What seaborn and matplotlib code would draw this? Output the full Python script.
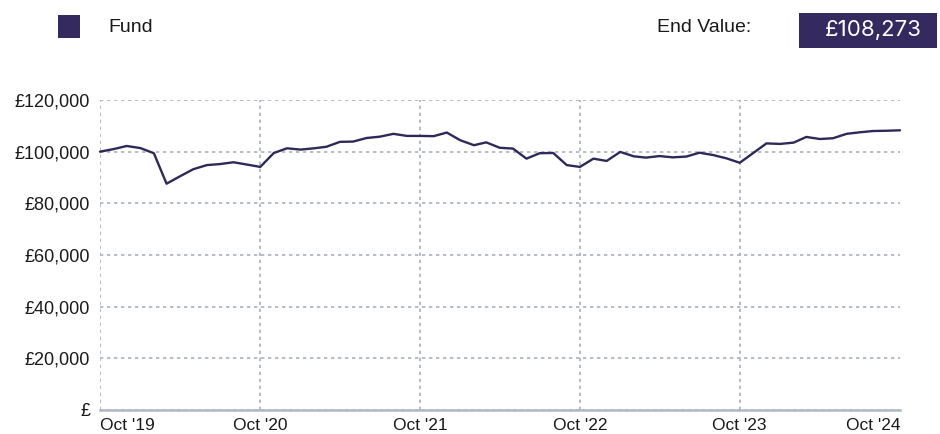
import pandas as pd
import matplotlib.pyplot as plt
import matplotlib.ticker as mticker
from matplotlib.patches import Rectangle
import seaborn as sns

# monthly fund value, Oct 2019 - Oct 2024
months = pd.date_range('2019-10-01', '2024-10-01', freq='MS')
fund_values = [
    100000, 101000, 102200, 101400, 99400, 87600, 90500, 93200, 94800, 95200,
    95900, 95000, 94100, 99500, 101300, 100800, 101300, 101900, 103800, 103900,
    105300, 105800, 106900, 106100, 106100, 106000, 107400, 104400, 102500, 103600,
    101500, 101200, 97300, 99400, 99500, 94800, 94100, 97300, 96400, 99900,
    98200, 97700, 98300, 97800, 98100, 99600, 98700, 97400, 95700, 99500,
    103200, 103000, 103500, 105700, 104900, 105200, 106900, 107500, 108000, 108100,
    108273,
]
tick_dates = pd.to_datetime(['2019-10-01', '2020-10-01', '2021-10-01',
                             '2022-10-01', '2023-10-01', '2024-10-01'])
tick_labels = ["Oct '19", "Oct '20", "Oct '21", "Oct '22", "Oct '23", "Oct '24"]
y_ticks = [0, 20000, 40000, 60000, 80000, 100000, 120000]
series_name = 'Fund'
end_value = '£108,273'

LINE = '#2e2958'
BOX = '#342a60'
GRID = '#a9b1ba'
AXIS = '#afb8c3'
TEXT = '#1a1a1a'

sns.set_theme(style='white')
plt.rcParams['font.family'] = ['Liberation Sans', 'DejaVu Sans']

fig = plt.figure(figsize=(9.4, 4.34), dpi=100)
ax = fig.add_axes([100 / 940, 24 / 434, 800 / 940, 310 / 434])

df = pd.DataFrame({'date': months, 'value': fund_values})
sns.lineplot(data=df, x='date', y='value', ax=ax, color=LINE,
             linewidth=1.7, clip_on=False, zorder=3)

ax.set_xlim(months[0], months[-1])
ax.set_ylim(0, 120000)
ax.set_xlabel('')
ax.set_ylabel('')

ax.set_xticks(tick_dates)
ax.set_xticklabels(tick_labels)
xl = ax.get_xticklabels()
xl[0].set_ha('left')
xl[-1].set_ha('right')

ax.set_yticks(y_ticks)
ax.yaxis.set_major_formatter(
    mticker.FuncFormatter(lambda v, p: '£' if v == 0 else f'£{v:,.0f}'))

ax.grid(True, color=GRID, linestyle=(0, (2, 2.2)), linewidth=1.2)
ax.xaxis.get_gridlines()[-1].set_visible(False)

for s in ['left', 'top', 'right']:
    ax.spines[s].set_visible(False)
ax.spines['bottom'].set_color(AXIS)
ax.spines['bottom'].set_linewidth(1.8)
ax.spines['bottom'].set_zorder(4)

ax.tick_params(axis='x', length=4, width=1.2, color=AXIS, pad=1.5,
               labelsize=12.5, labelcolor=TEXT)
ax.tick_params(axis='y', length=0, pad=7, labelsize=13, labelcolor=TEXT)

# header: legend swatch + end value box
fig.add_artist(Rectangle((58 / 940, 1 - 38 / 434), 22 / 940, 23 / 434,
                         transform=fig.transFigure, color=BOX, lw=0))
fig.text(108 / 940, 1 - 27 / 434, series_name, va='center', ha='left',
         fontsize=14, color=TEXT)
fig.text(657 / 940, 1 - 27 / 434, 'End Value:', va='center', ha='left',
         fontsize=14, color=TEXT)
fig.add_artist(Rectangle((799 / 940, 1 - 48 / 434), 138 / 940, 35 / 434,
                         transform=fig.transFigure, color=BOX, lw=0))
fig.text(873 / 940, 1 - 30.5 / 434, end_value, va='center', ha='center',
         fontsize=16, color='white', family=['Inter', 'DejaVu Sans'])

fig.savefig('out.png', dpi=100)
